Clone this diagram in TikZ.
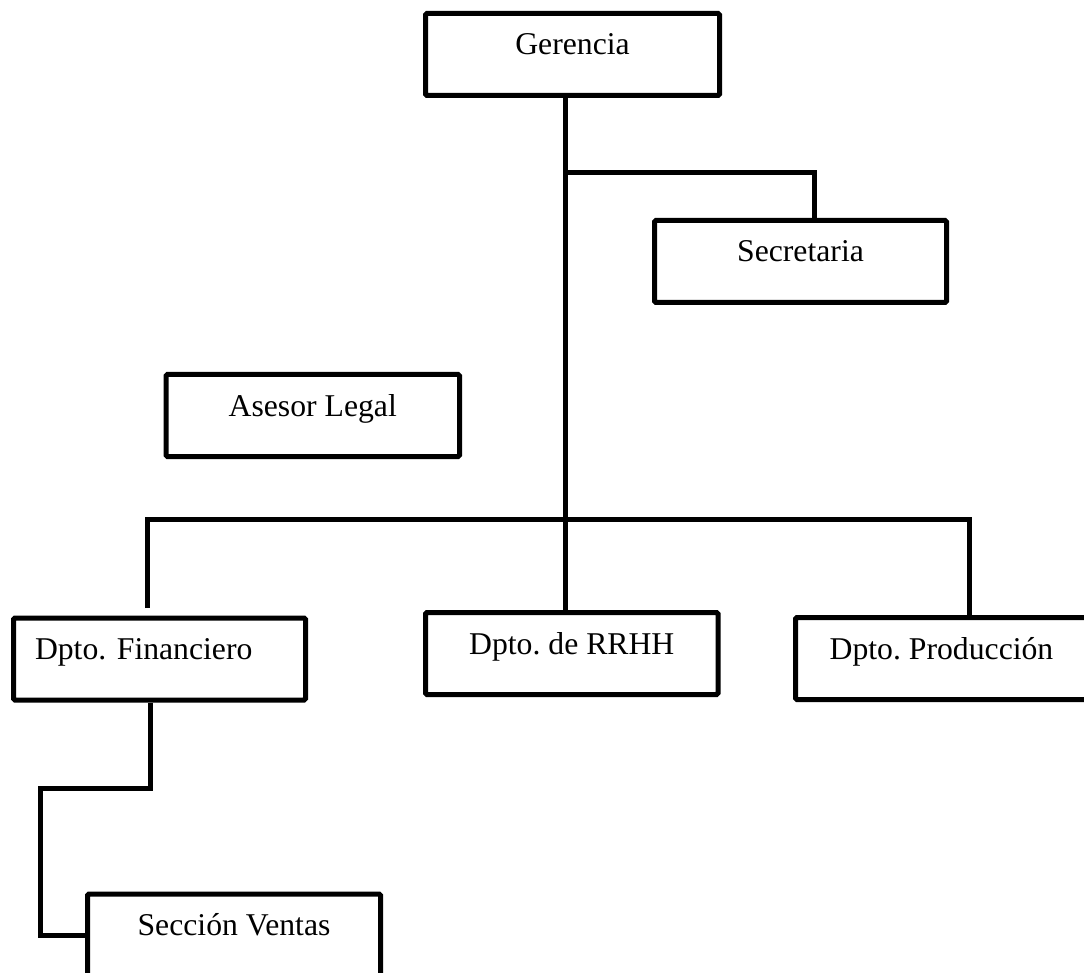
\documentclass[tikz,border=0pt]{standalone}
\usepackage{fontspec}
\setmainfont{Liberation Serif}
\newfontfamily\orgfont{Liberation Serif}
\frenchspacing
\begin{document}
\begin{tikzpicture}[x=1pt,y=-1pt,
  orgbox/.style={draw=black, line width=5pt, rounded corners=1.5pt, fill=white,
    inner xsep=0pt, inner ysep=0pt, text height=41.5pt, text depth=40.5pt,
    font=\orgfont\fontsize{31.7}{38}\selectfont},
  link/.style={draw=black, line width=5pt, line join=miter}]
  \useasboundingbox (0,0) rectangle (1084,973);
  \fill[white] (0,0) rectangle (1084,973);

  % boxes
  \node[orgbox, minimum width=294pt] (ger) at (572.5,54.5) {Gerencia};
  \node[orgbox, minimum width=292pt] (sec) at (800.5,261.5) {Secretaria};
  \node[orgbox, minimum width=293.5pt] (ase) at (312.75,415.5) {Asesor Legal};
  \node[orgbox, text width=249pt, inner xsep=21.5pt, align=left] (fin) at (159.5,659) {Dpto. Financiero};
  \node[orgbox, minimum width=292.5pt] (rrhh) at (571.75,653.5) {Dpto. de RRHH};
  \node[orgbox, minimum width=292pt] (prod) at (941.5,658.5) {Dpto. Producción};
  \node[orgbox, minimum width=293pt] (ven) at (234,935) {Sección Ventas};

  % junction points of the connectors
  \coordinate (secj) at (565.5,172.5);
  \coordinate (bus) at (565.5,519.5);
  \coordinate (venk) at (40,788.5);

  % trunk from Gerencia down to the department bus
  \draw[link] (ger.south -| bus) -- (bus);
  \draw[link] (bus) -- (rrhh.north -| bus);
  % branch to Secretaria
  \draw[link] (secj) -| ([xshift=14pt]sec.north);
  % department bus
  \draw[link] ([xshift=-12pt,yshift=7.5pt]fin.north) |- (bus) -| ([xshift=28pt]prod.north);
  % Financiero down to Sección Ventas
  \draw[link] ([xshift=-9.5pt]fin.south) |- (venk) |- (ven.west);
\end{tikzpicture}
\end{document}
